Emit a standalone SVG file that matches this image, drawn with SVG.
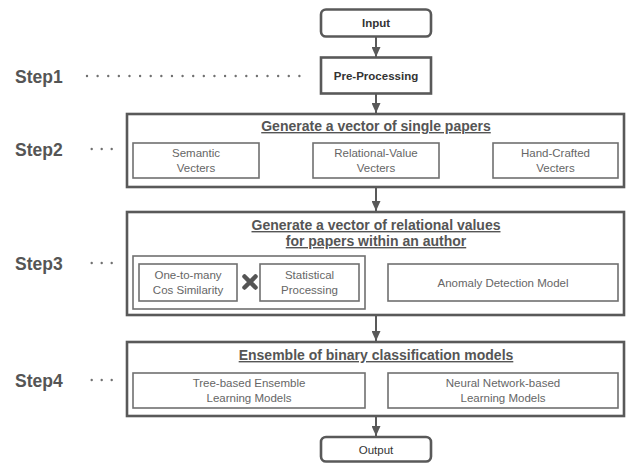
<svg xmlns="http://www.w3.org/2000/svg" width="633" height="463" viewBox="0 0 633 463">
<defs>
<marker id="ah" markerUnits="userSpaceOnUse" markerWidth="10" markerHeight="9" refX="10" refY="4.5" orient="auto">
<path d="M0,0 L10,4.5 L0,9 z" fill="#595959"/>
</marker>
<style>
.outer{fill:#fff;stroke:#595959;stroke-width:2.6}
.inner{fill:#fff;stroke:#707070;stroke-width:1.6}
.step{font-family:"Liberation Sans",Arial,sans-serif;font-weight:bold;font-size:17.5px;fill:#555}
.title{font-family:"Liberation Sans",Arial,sans-serif;font-weight:bold;font-size:14px;fill:#555;text-anchor:middle;text-decoration:underline}
.lbl{font-family:"Liberation Sans",Arial,sans-serif;font-size:11.5px;fill:#666;text-anchor:middle}
.term{font-family:"Liberation Sans",Arial,sans-serif;font-size:11.5px;fill:#333;text-anchor:middle}
.dots{stroke:#707070;stroke-width:2.4;stroke-linecap:round;fill:none}
.conn{stroke:#595959;stroke-width:2;fill:none;marker-end:url(#ah)}
</style>
</defs>
<rect width="633" height="463" fill="#fff"/>

<g id="step-labels">
<text class="step" x="15" y="83">Step1</text>
<text class="step" x="15" y="156">Step2</text>
<text class="step" x="15" y="270">Step3</text>
<text class="step" x="15" y="387">Step4</text>
<path class="dots" d="M87 76 H310" stroke-dasharray="0 10.62"/>
<path class="dots" d="M91.7 149 H121.7" stroke-dasharray="0 10"/>
<path class="dots" d="M91.7 263 H121.7" stroke-dasharray="0 10"/>
<path class="dots" d="M91.7 380 H121.7" stroke-dasharray="0 10"/>
</g>

<g id="connectors">
<path class="conn" d="M376 37 V57"/>
<path class="conn" d="M376 94 V113"/>
<path class="conn" d="M376 188 V211"/>
<path class="conn" d="M376 316 V341"/>
<path class="conn" d="M376 417 V436"/>
</g>

<g id="input">
<rect class="outer" x="321" y="9.5" width="110" height="27" rx="5"/>
<text class="term" x="376" y="27" font-weight="bold">Input</text>
</g>

<g id="preprocessing">
<rect class="outer" x="321" y="57.5" width="110" height="36"/>
<text class="term" x="376" y="79.5" font-weight="bold" font-size="12px">Pre-Processing</text>
</g>

<g id="step2">
<rect class="outer" x="127" y="114" width="497" height="73"/>
<text class="title" x="376" y="131">Generate a vector of single papers</text>
<g id="semantic">
<rect class="inner" x="133" y="143" width="126" height="35"/>
<text class="lbl" x="196" y="157">Semantic</text>
<text class="lbl" x="196" y="171.5">Vecters</text>
</g>
<g id="relational-value">
<rect class="inner" x="313" y="143" width="126" height="35"/>
<text class="lbl" x="376" y="157">Relational-Value</text>
<text class="lbl" x="376" y="171.5">Vecters</text>
</g>
<g id="hand-crafted">
<rect class="inner" x="493" y="143" width="125" height="35"/>
<text class="lbl" x="555.5" y="157">Hand-Crafted</text>
<text class="lbl" x="555.5" y="171.5">Vecters</text>
</g>
</g>

<g id="step3">
<rect class="outer" x="127" y="212" width="497" height="103"/>
<text class="title" x="376" y="230">Generate a vector of relational values</text>
<text class="title" x="376" y="246">for papers within an author</text>
<g id="cos-group">
<rect class="inner" x="133" y="256" width="232" height="53"/>
<g id="one-to-many">
<rect class="inner" x="139" y="264" width="98" height="37"/>
<text class="lbl" x="188" y="279">One-to-many</text>
<text class="lbl" x="188" y="293.5">Cos Similarity</text>
</g>
<path d="M244.5 276.5 L255.5 287.5 M255.5 276.5 L244.5 287.5" stroke="#555" stroke-width="4.5" stroke-linecap="round"/>
<g id="statistical">
<rect class="inner" x="260" y="264" width="99" height="37"/>
<text class="lbl" x="309.5" y="279">Statistical</text>
<text class="lbl" x="309.5" y="293.5">Processing</text>
</g>
</g>
<g id="anomaly">
<rect class="inner" x="388" y="264" width="230" height="37"/>
<text class="lbl" x="503" y="286.5">Anomaly Detection Model</text>
</g>
</g>

<g id="step4">
<rect class="outer" x="127" y="342" width="497" height="74"/>
<text class="title" x="376" y="360">Ensemble of binary classification models</text>
<g id="tree-based">
<rect class="inner" x="133" y="373" width="232" height="35"/>
<text class="lbl" x="249" y="387">Tree-based Ensemble</text>
<text class="lbl" x="249" y="401.5">Learning Models</text>
</g>
<g id="neural">
<rect class="inner" x="388" y="373" width="230" height="35"/>
<text class="lbl" x="503" y="387">Neural Network-based</text>
<text class="lbl" x="503" y="401.5">Learning Models</text>
</g>
</g>

<g id="output">
<rect class="outer" x="321" y="437" width="110" height="24.5" rx="5"/>
<text class="term" x="376" y="453.5">Output</text>
</g>
</svg>
